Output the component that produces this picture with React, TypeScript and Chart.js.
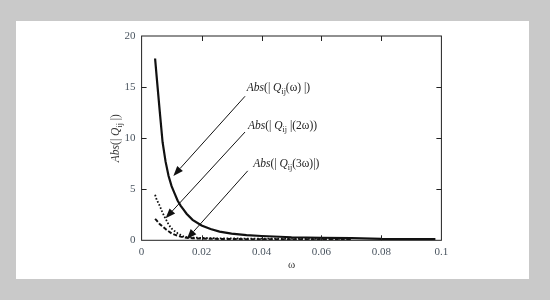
import React, { useEffect, useRef } from "react";
import { Chart, registerables } from "chart.js";

Chart.register(...registerables);

// ---- data ----
const omega = [0.0045, 0.005, 0.006, 0.007, 0.008, 0.009, 0.01, 0.011, 0.012, 0.013, 0.014, 0.015, 0.017, 0.02, 0.023, 0.026, 0.03, 0.035, 0.04, 0.05, 0.06, 0.07, 0.08, 0.09, 0.098];
const absQ1: (number | null)[] = [17.8, 16.1, 12.8, 9.6, 7.7, 6.3, 5.3, 4.6, 3.9, 3.4, 3.0, 2.6, 2.0, 1.45, 1.1, 0.85, 0.65, 0.5, 0.42, 0.3, 0.25, 0.22, 0.13, 0.12, 0.11];
const absQ2: (number | null)[] = [4.45, 4.0, 3.4, 2.7, 2.1, 1.55, 1.15, 0.9, 0.7, 0.52, 0.38, 0.32, 0.27, 0.24, 0.21, 0.19, 0.18, 0.17, 0.16, 0.15, 0.15, 0.15, null, null, null];
const absQ3: (number | null)[] = [2.1, 1.95, 1.6, 1.35, 1.1, 0.88, 0.68, 0.55, 0.45, 0.36, 0.3, 0.25, 0.2, 0.17, 0.15, 0.13, 0.12, 0.11, 0.11, 0.1, 0.1, 0.1, null, null, null];

const xTicks = [0, 0.02, 0.04, 0.06, 0.08, 0.1];
const yTicks = [0, 5, 10, 15, 20];

// annotation labels (text parts) and arrow endpoints in data units
const labelParts = [
  [{ t: "Abs", i: true }, { t: "(| " }, { t: "Q", i: true }, { t: "ij", s: true }, { t: "(ω) |)" }],
  [{ t: "Abs", i: true }, { t: "(| " }, { t: "Q", i: true }, { t: "ij", s: true }, { t: " |(2ω))" }],
  [{ t: "Abs", i: true }, { t: "(| " }, { t: "Q", i: true }, { t: "ij", s: true }, { t: "(3ω)|)" }],
];
const labelAt = [
  [0.0351, 14.6],
  [0.0355, 10.9],
  [0.0372, 7.15],
];
const arrowFrom = [
  [0.0345, 14.1],
  [0.0345, 10.6],
  [0.0354, 6.8],
];
const arrowTo = [
  [0.0106, 6.3],
  [0.008, 2.15],
  [0.0151, 0.12],
];
const yTitleParts = [{ t: "Abs", i: true }, { t: "(| " }, { t: "Q", i: true }, { t: "ij", s: true }, { t: " |)" }];

type Part = { t: string; i?: boolean; s?: boolean };

const SERIF = "'Liberation Serif', 'DejaVu Serif', serif";

function partFont(p: Part, size: number) {
  const sz = p.s ? size * 0.7 : size;
  return `${p.i ? "italic " : ""}${sz}px ${SERIF}`;
}

function measureParts(ctx: CanvasRenderingContext2D, parts: Part[], size: number) {
  let w = 0;
  for (const p of parts) {
    ctx.font = partFont(p, size);
    w += ctx.measureText(p.t).width;
  }
  return w;
}

function drawParts(ctx: CanvasRenderingContext2D, parts: Part[], x: number, y: number, size: number) {
  let cx = x;
  ctx.textBaseline = "alphabetic";
  ctx.textAlign = "left";
  for (const p of parts) {
    ctx.font = partFont(p, size);
    ctx.fillText(p.t, cx, p.s ? y + size * 0.25 : y);
    cx += ctx.measureText(p.t).width;
  }
}

const framePlugin = {
  id: "framePlugin",
  afterDraw(chart: any) {
    const { ctx, chartArea: a, scales } = chart;
    const xs = scales.x;
    const ys = scales.y;
    ctx.save();
    // frame
    ctx.strokeStyle = "#222";
    ctx.lineWidth = 1;
    ctx.strokeRect(a.left, a.top, a.right - a.left, a.bottom - a.top);
    // inward ticks
    const tl = 5;
    ctx.beginPath();
    for (const v of xTicks.slice(1, -1)) {
      const px = Math.round(xs.getPixelForValue(v)) + 0.5;
      ctx.moveTo(px, a.bottom);
      ctx.lineTo(px, a.bottom - tl);
      ctx.moveTo(px, a.top);
      ctx.lineTo(px, a.top + tl);
    }
    for (const v of yTicks.slice(1, -1)) {
      const py = Math.round(ys.getPixelForValue(v)) + 0.5;
      ctx.moveTo(a.left, py);
      ctx.lineTo(a.left + tl, py);
      ctx.moveTo(a.right, py);
      ctx.lineTo(a.right - tl, py);
    }
    ctx.stroke();

    // arrows
    ctx.strokeStyle = "#111";
    ctx.fillStyle = "#111";
    for (let k = 0; k < arrowFrom.length; k++) {
      const x1 = xs.getPixelForValue(arrowFrom[k][0]);
      const y1 = ys.getPixelForValue(arrowFrom[k][1]);
      const x2 = xs.getPixelForValue(arrowTo[k][0]);
      const y2 = ys.getPixelForValue(arrowTo[k][1]);
      const ang = Math.atan2(y2 - y1, x2 - x1);
      const hl = 10;
      const hw = 3.8;
      const bx = x2 - hl * Math.cos(ang);
      const by = y2 - hl * Math.sin(ang);
      ctx.lineWidth = 1;
      ctx.beginPath();
      ctx.moveTo(x1, y1);
      ctx.lineTo(bx, by);
      ctx.stroke();
      ctx.beginPath();
      ctx.moveTo(x2, y2);
      ctx.lineTo(bx + hw * Math.sin(ang), by - hw * Math.cos(ang));
      ctx.lineTo(bx - hw * Math.sin(ang), by + hw * Math.cos(ang));
      ctx.closePath();
      ctx.fill();
    }

    // labels
    ctx.fillStyle = "#222";
    for (let k = 0; k < labelParts.length; k++) {
      const lx = xs.getPixelForValue(labelAt[k][0]);
      const ly = ys.getPixelForValue(labelAt[k][1]);
      drawParts(ctx, labelParts[k] as Part[], lx, ly, 11.5);
    }

    // axis titles
    ctx.fillStyle = "#333";
    const cy = (a.top + a.bottom) / 2;
    ctx.save();
    ctx.translate(119, cy);
    ctx.rotate(-Math.PI / 2);
    const w = measureParts(ctx, yTitleParts as Part[], 11.5);
    drawParts(ctx, yTitleParts as Part[], -w / 2, 0, 11.5);
    ctx.restore();
    ctx.font = `11px ${SERIF}`;
    ctx.textAlign = "center";
    ctx.textBaseline = "middle";
    ctx.fillText("ω", (a.left + a.right) / 2, 265);
    ctx.restore();
  },
};

function series(vals: (number | null)[]) {
  const out: { x: number; y: number }[] = [];
  omega.forEach((x, i) => {
    const v = vals[i];
    if (v !== null && v !== undefined) out.push({ x, y: v });
  });
  return out;
}

export default function App() {
  const ref = useRef<HTMLCanvasElement | null>(null);
  useEffect(() => {
    if (!ref.current) return;
    const chart = new Chart(ref.current, {
      type: "scatter",
      data: {
        datasets: [
          { data: series(absQ1), showLine: true, borderColor: "#111", borderWidth: 2.2, pointRadius: 0, tension: 0 },
          { data: series(absQ2), showLine: true, borderColor: "#111", borderWidth: 1.8, borderDash: [1.6, 1.8], pointRadius: 0, tension: 0 },
          { data: series(absQ3), showLine: true, borderColor: "#111", borderWidth: 2, borderDash: [4, 2], pointRadius: 0, tension: 0 },
        ],
      },
      options: {
        responsive: false,
        animation: false,
        layout: { padding: { left: 100, right: 108.6, top: 36, bottom: 20 } },
        plugins: { legend: { display: false }, tooltip: { enabled: false } },
        scales: {
          x: {
            type: "linear",
            min: 0,
            max: 0.1,
            afterBuildTicks: (s: any) => {
              s.ticks = xTicks.map((v) => ({ value: v }));
            },
            afterFit: (s: any) => {
              s.height = 39.7;
            },
            grid: { display: false, drawTicks: false },
            border: { display: false },
            ticks: {
              padding: 5,
              color: "#4a5560",
              font: { family: SERIF, size: 11 },
              callback: (v: any) => String(Number(Number(v).toFixed(2))),
            },
          },
          y: {
            type: "linear",
            min: 0,
            max: 20,
            afterBuildTicks: (s: any) => {
              s.ticks = yTicks.map((v) => ({ value: v }));
            },
            afterFit: (s: any) => {
              s.width = 41.6;
            },
            grid: { display: false, drawTicks: false },
            border: { display: false },
            ticks: {
              padding: 6,
              color: "#4a5560",
              font: { family: SERIF, size: 11 },
              callback: (v: any) => String(v),
            },
          },
        },
      },
      plugins: [framePlugin],
    } as any);
    return () => chart.destroy();
  }, []);

  return (
    <div style={{ position: "fixed", left: 0, top: 0, width: 550, height: 300, background: "#c9c9c9" }}>
      <div style={{ position: "absolute", left: 15.6, top: 20.7, width: 513.6, height: 258.3, background: "#ffffff" }} />
      <canvas ref={ref} width={550} height={300} style={{ position: "absolute", left: 0, top: 0, width: 550, height: 300 }} />
    </div>
  );
}
